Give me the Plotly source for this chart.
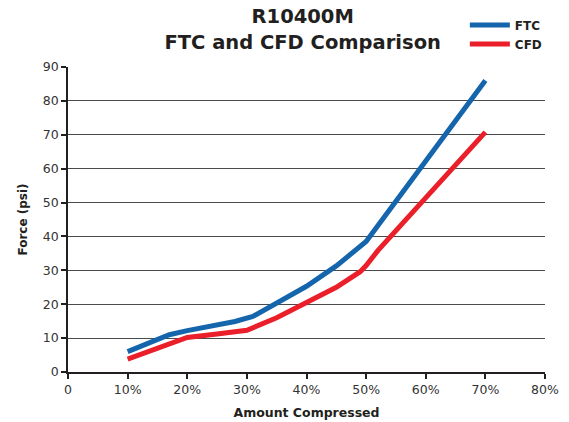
import plotly.graph_objects as go

# Data (percent compressed vs force in psi)
ftc_x = [10, 17, 20, 25, 28, 31, 35, 40, 45, 50, 55, 60, 65, 70]
ftc_y = [6.0, 11.0, 12.2, 13.7, 14.9, 16.4, 20.2, 25.3, 31.3, 38.5, 50.4, 62.2, 74.1, 86.0]

cfd_x = [10, 20, 25, 30, 35, 40, 45, 49, 50, 52, 55, 60, 65, 70]
cfd_y = [3.8, 10.2, 11.2, 12.3, 16.0, 20.4, 25.0, 29.6, 31.4, 35.9, 41.8, 51.5, 61.0, 70.8]

x_tick_vals = [0, 10, 20, 30, 40, 50, 60, 70, 80]
x_tick_text = ["0", "10%", "20%", "30%", "40%", "50%", "60%", "70%", "80%"]
y_tick_vals = [0, 10, 20, 30, 40, 50, 60, 70, 80, 90]

title_lines = ["R10400M", "FTC and CFD Comparison"]
x_title = "Amount Compressed"
y_title = "Force (psi)"

BLUE = "#1565ac"
RED = "#ea1f2a"
TXT = "#231f20"
FONT = "DejaVu Sans"

fig = go.Figure()
fig.add_trace(go.Scatter(x=ftc_x, y=ftc_y, mode="lines", name="FTC",
                         line=dict(color=BLUE, width=5)))
fig.add_trace(go.Scatter(x=cfd_x, y=cfd_y, mode="lines", name="CFD",
                         line=dict(color=RED, width=5)))

fig.update_layout(
    width=569, height=422,
    margin=dict(l=67.5, r=24, t=66.7, b=50, autoexpand=False),
    paper_bgcolor="white", plot_bgcolor="white",
    font=dict(family=FONT, color=TXT),
    title=dict(text="<b>" + "<br>".join(title_lines) + "</b>",
               x=0.532, xanchor="center", y=0.945, yanchor="top",
               font=dict(size=19.5, family=FONT, color=TXT)),
    legend=dict(x=0.832, y=1.185, xanchor="left", yanchor="top",
                font=dict(size=12, family=FONT, color=TXT, weight="bold"),
                bgcolor="rgba(0,0,0,0)", tracegroupgap=0, itemwidth=40),
    showlegend=True,
)
fig.update_xaxes(range=[0, 80], tickvals=x_tick_vals, ticktext=x_tick_text,
                 showgrid=False, showline=True, linecolor="#231f20", linewidth=1.5,
                 ticks="outside", ticklen=5, tickcolor="#231f20", tickwidth=1.5,
                 tickfont=dict(size=12.5, color="#333333"),
                 title=dict(text="<b>" + x_title + "</b>", font=dict(size=12.5), standoff=12),
                 zeroline=False, fixedrange=True, automargin=False)
fig.update_yaxes(range=[0, 90], tickvals=y_tick_vals,
                 showgrid=True, gridcolor="#4a4a4a", gridwidth=1.3,
                 showline=True, linecolor="#231f20", linewidth=1.5,
                 ticks="outside", ticklen=5, tickcolor="#231f20", tickwidth=1.5,
                 tickfont=dict(size=12.5, color="#333333"),
                 title=dict(text="<b>" + y_title + "</b>", font=dict(size=12), standoff=13),
                 zeroline=False, fixedrange=True, automargin=False)

fig.write_html("out.html", config={"displayModeBar": False},
               post_script="document.body.style.margin='0';")
